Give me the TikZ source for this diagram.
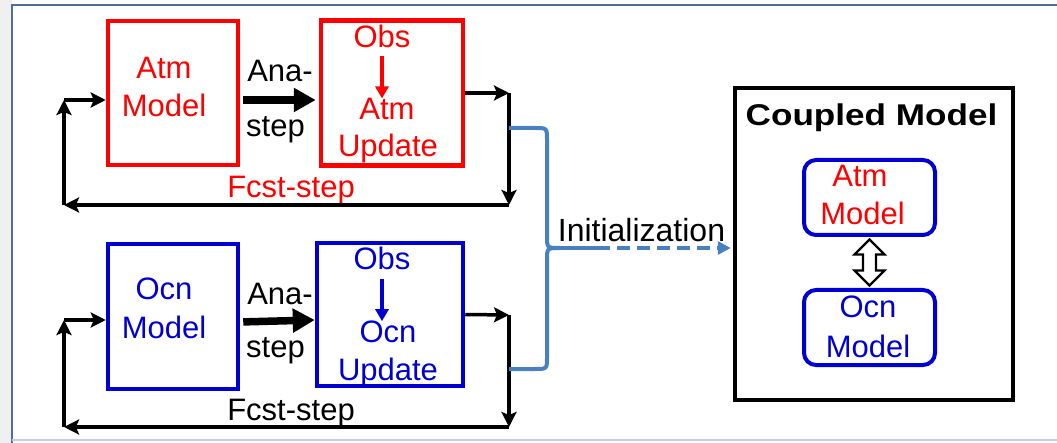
\documentclass[tikz,border=0pt]{standalone}
\usepackage{fontspec}
\setmainfont{Liberation Sans}
\usetikzlibrary{arrows.meta,positioning,calc}
\definecolor{atmred}{RGB}{255,0,0}
\definecolor{ocnblue}{RGB}{0,0,210}
\definecolor{initblue}{RGB}{72,128,192}
\definecolor{framecol}{RGB}{80,110,160}
\tikzset{
  lbl/.style={font=\fontsize{31}{36}\selectfont, anchor=base, inner sep=0pt},
  stepbox/.style={draw, line width=4.5pt, inner sep=0pt},
  roundbox/.style={draw=ocnblue, line width=4pt, rounded corners=12pt, inner sep=0pt,
    minimum width=131pt, minimum height=75pt},
  flow/.style={line width=3.5pt, -{Stealth[length=15pt,width=15pt,inset=3pt]}},
  anaflow/.style={line width=7.5pt, -{Triangle[length=22pt,width=23pt]}},
  obsflow/.style={line width=3.5pt, -{Triangle[length=12pt,width=13pt]}},
  brace/.style={initblue, line width=4pt},
}
\begin{document}
\begin{tikzpicture}[x=1pt,y=-1pt]
\useasboundingbox (0,0) rectangle (1057,443);
\fill[gray!12] (0,0) rectangle (12,443);
\draw[framecol, line width=2.5pt] (12,443) -- (12,5) -- (1057,5);
\draw[framecol!35, line width=2pt] (12,439.5) -- (1057,439.5);

\node[stepbox, atmred, minimum width=130pt, minimum height=144pt] (atm) at (173,93) {};
\node[stepbox, atmred, minimum width=142pt, minimum height=145pt] (atmupd) at (392,93) {};
\node[stepbox, ocnblue, minimum width=130pt, minimum height=145pt] (ocn) at (173,316.5) {};
\node[stepbox, ocnblue, minimum width=146pt, minimum height=143pt] (ocnupd) at (390,314.5) {};
\node[stepbox, black, minimum width=278pt, minimum height=312pt] (cpl) at (874,244) {};
\node[roundbox] (catm) at (869.5,197.5) {};
\node[roundbox] (cocn) at (869.5,327.5) {};

\node[lbl, atmred] (atmname) at (164,79) {Atm};
\node[lbl, atmred] (atmmodel) at (164,117) {Model};
\node[lbl, ocnblue] (ocnname) at (164,300) {Ocn};
\node[lbl, ocnblue] (ocnmodel) at (164,338) {Model};

\node[lbl] (anaA) at (280,82) {Ana-};
\node[lbl] (stepA) at (275.5,137) {step};
\node[lbl] (anaO) at (280,305) {Ana-};
\node[lbl] (stepO) at (275.5,357) {step};

\node[lbl, atmred] (obsA) at (382,48) {Obs};
\node[lbl, atmred] (updA1) at (387,120) {Atm};
\node[lbl, atmred] (updA2) at (388,157) {Update};
\node[lbl, ocnblue] (obsO) at (382,270) {Obs};
\node[lbl, ocnblue] (updO1) at (388,343) {Ocn};
\node[lbl, ocnblue] (updO2) at (388,380) {Update};

\node[lbl, atmred] (fcstA) at (291,198) {Fcst-step};
\node[lbl] (fcstO) at (291,420) {Fcst-step};
\node[lbl, font=\fontsize{32}{36}\selectfont] (init) at (641.5,242) {Initialization};
\node[lbl, font=\fontsize{30}{36}\selectfont\bfseries] (cpltitle) at (871.5,126) {\scalebox{1.17}[1]{Coupled Model}};

\node[lbl, atmred] (catmname) at (860,187) {Atm};
\node[lbl, atmred] (catmmodel) at (862.5,225) {Model};
\node[lbl, ocnblue] (cocnname) at (868,318) {Ocn};
\node[lbl, ocnblue] (cocnmodel) at (868,357) {Model};

\draw[anaflow, shorten <=3pt, shorten >=3pt] ([yshift=-7pt]atm.east) -- ([yshift=-7pt]atmupd.west);
\draw[anaflow, shorten <=3pt] ([yshift=-5.5pt]ocn.east) -- ([yshift=-5.5pt]ocnupd.west);
\draw[obsflow, atmred] ([yshift=-8pt]obsA.south) -- (obsA.south |- updA1.north);
\draw[obsflow, ocnblue] ([yshift=-8pt]obsO.south) -- (obsO.south |- updO1.north);

\coordinate (ta) at (509,93);
\coordinate (tb) at (509,205);
\coordinate (tc) at (64,205);
\coordinate (td) at (64,100);
\draw[flow] (atmupd.east) -- (ta);
\draw[flow] (ta) -- (tb);
\draw[flow] (tb) -- (tc);
\draw[flow] (tc) -- (td);
\draw[flow] (td) -- (td -| atm.west);

\coordinate (ba) at (509,315);
\coordinate (bb) at (509,427);
\coordinate (bc) at (64,427);
\coordinate (bd) at (64,320);
\draw[flow] (ocnupd.east) -- (ba);
\draw[flow] (ba) -- (bb);
\draw[flow] (bb) -- (bc);
\draw[flow] (bc) -- (bd);
\draw[flow] (bd) -- (bd -| ocn.west);

\coordinate (bracetop) at (509,128);
\coordinate (bracebot) at (509,369);
\coordinate (bracetip) at (560,248);
\draw[brace] (bracetop) -- (535,128) .. controls (547,128) .. (547,140) -- (547,236) .. controls (547,248) .. (bracetip);
\draw[brace] (bracebot) -- (535,369) .. controls (547,369) .. (547,357) -- (547,260) .. controls (547,248) .. (bracetip);
\draw[brace] (bracetip) -- (597,248);
\draw[brace, dash pattern=on 13pt off 7pt, -{Triangle[length=13pt,width=13pt]}, shorten >=2pt] (597,248) -- (bracetip -| cpl.west);

\coordinate (linktop) at ($(catm.south)+(0,2.5)$);
\coordinate (linkbot) at ($(cocn.north)+(0,-2.5)$);
\draw[line width=2.2pt, fill=white, line join=miter] (linktop) -- ++(15,15) -- ++(-8.5,0) -- ($(linkbot)+(6.5,-15)$)
  -- ++(8.5,0) -- (linkbot) -- ++(-15,-15) -- ++(8.5,0) -- ($(linktop)+(-6.5,15)$) -- ++(-8.5,0) -- cycle;
\end{tikzpicture}
\end{document}
